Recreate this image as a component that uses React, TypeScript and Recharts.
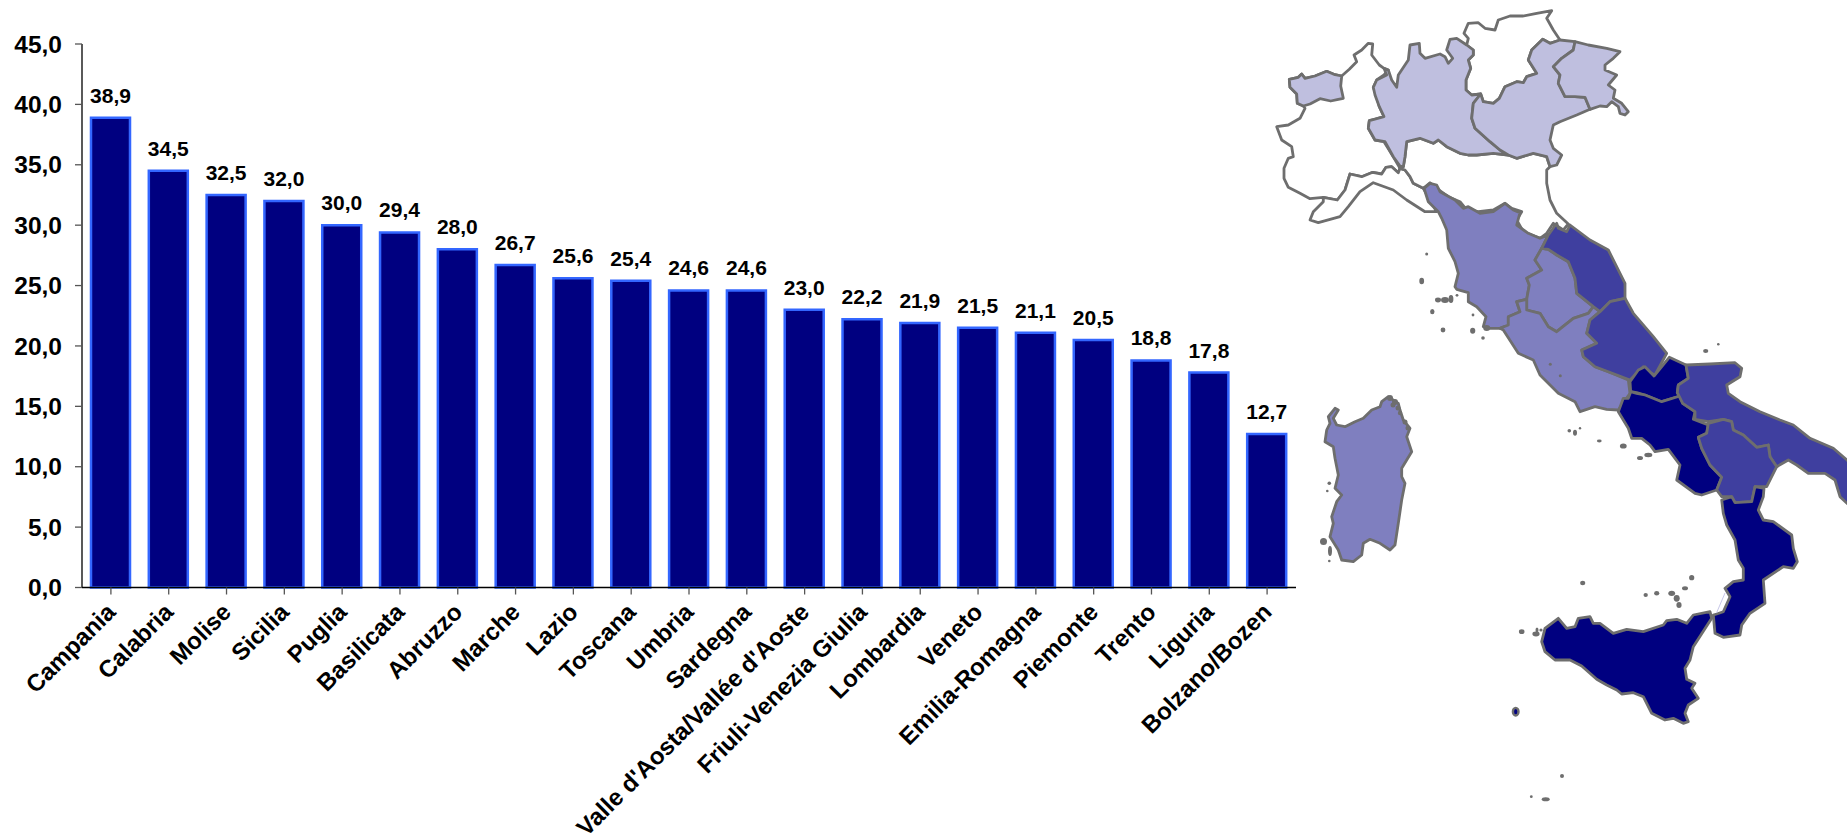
import { Bar, BarChart, LabelList, XAxis, YAxis } from "recharts";

const regions = [
  "Campania", "Calabria", "Molise", "Sicilia", "Puglia", "Basilicata", "Abruzzo",
  "Marche", "Lazio", "Toscana", "Umbria", "Sardegna", "Valle d'Aosta/Vallée d'Aoste",
  "Friuli-Venezia Giulia", "Lombardia", "Veneto", "Emilia-Romagna", "Piemonte",
  "Trento", "Liguria", "Bolzano/Bozen",
];
const rates = [
  38.9, 34.5, 32.5, 32.0, 30.0, 29.4, 28.0, 26.7, 25.6, 25.4, 24.6, 24.6, 23.0,
  22.2, 21.9, 21.5, 21.1, 20.5, 18.8, 17.8, 12.7,
];
const yTicks = [0, 5, 10, 15, 20, 25, 30, 35, 40, 45];

// Choropleth classes for the map, upper bound of each one
const classBreaks = [21.2, 24, 26, 31, 100];
const classColors = ["#ffffff", "#bfbfdf", "#7f7fbf", "#3f3f9f", "#000080"];

const tableData = regions.map((name, i) => ({ name, value: rates[i] }));
const comma = (v: number) => v.toFixed(1).replace(".", ",");
const FONT = "'Liberation Sans', Arial, sans-serif";
const BORDER = "#6e6e6e";

function colorOf(name: string) {
  const value = rates[regions.indexOf(name)];
  return classColors[classBreaks.findIndex((b) => value < b)];
}

// Outlines are traced at 3x around a local origin
const NORTH: [number, number] = [1260, 0];
const CENTRE: [number, number] = [1300, 170];
const SOUTH: [number, number] = [1560, 340];
const SICILY: [number, number] = [1500, 580];
const SARDINIA: [number, number] = [1300, 380];

const outlines: { names: string[]; origin: [number, number]; pts: string }[] = [
  { names: ["Piemonte"], origin: NORTH, pts: "130,318 112,310 110,282 90,262 88,238 115,232 125,222 135,235 165,228 200,214 225,224 245,228 268,208 290,185 282,165 305,150 325,130 338,132 335,165 358,195 372,205 385,210 372,225 350,240 340,262 350,290 358,320 372,350 345,358 328,362 325,385 345,420 372,425 400,470 420,505 415,518 395,500 378,502 365,522 338,517 305,530 270,522 255,570 232,600 190,592 150,596 120,580 85,562 72,535 72,505 85,475 100,470 95,440 65,420 50,380 85,375 120,355 135,325" },
  { names: ["Liguria"], origin: NORTH, pts: "415,518 395,500 378,502 365,522 338,517 305,530 270,522 255,570 232,600 190,592 190,605 160,635 150,660 175,668 240,650 265,620 300,575 340,548 400,570 440,600 495,635 530,635 510,600 490,565 460,550 450,530 435,510 420,505" },
  { names: ["Emilia-Romagna"], origin: NORTH, pts: "420,505 435,510 450,530 460,550 490,565 510,548 530,565 565,590 600,605 620,630 655,635 700,630 735,610 755,625 785,635 770,660 790,695 840,715 860,700 880,670 910,690 925,672 890,640 870,600 860,550 860,510 870,500 860,470 820,460 770,475 745,465 700,460 650,465 625,465 600,460 560,440 535,420 520,430 480,415 440,425 435,470 430,500" },
  { names: ["Trento", "Bolzano/Bozen"], origin: NORTH, pts: "612,100 625,70 655,68 675,85 705,90 715,60 750,48 790,48 830,40 875,32 860,55 880,90 900,120 870,130 848,118 815,150 805,180 830,220 800,230 790,248 770,245 735,260 718,295 700,310 670,305 662,282 635,285 618,270 618,240 632,205 625,180 640,165 640,150 620,135 625,115" },
  { names: ["Valle d'Aosta/Vallée d'Aoste"], origin: NORTH, pts: "88,238 115,232 125,222 135,235 165,228 200,214 225,224 245,228 242,258 250,295 235,298 212,303 180,296 150,312 130,318 112,310 110,282 90,262" },
  { names: ["Lombardia"], origin: NORTH, pts: "372,205 385,210 395,240 410,262 415,225 445,180 450,135 478,130 480,160 495,175 540,162 555,170 565,190 578,175 560,150 570,118 590,115 620,135 640,150 640,165 625,180 632,205 618,240 618,270 635,285 662,282 640,310 635,355 645,385 690,425 720,450 745,465 700,460 650,465 625,465 600,460 560,440 535,420 520,430 480,415 440,425 435,470 430,500 420,498 400,470 375,425 345,420 325,385 328,362 372,350 358,320 345,285 340,262 350,240 380,225" },
  { names: ["Veneto"], origin: NORTH, pts: "662,282 670,305 700,310 718,295 735,260 770,245 790,248 800,230 830,220 805,180 815,150 848,118 870,130 900,120 945,125 940,150 905,175 880,200 900,225 895,250 915,290 945,290 975,292 990,328 950,345 900,365 880,375 870,420 880,445 905,465 890,495 870,500 860,470 820,460 770,475 745,465 720,450 690,425 645,385 635,355 640,310" },
  { names: ["Friuli-Venezia Giulia"], origin: NORTH, pts: "945,125 985,135 1040,145 1080,155 1060,175 1035,195 1035,210 1070,225 1045,255 1065,270 1060,295 1085,310 1105,335 1095,345 1080,340 1075,320 1055,305 1040,320 1020,318 990,328 975,292 945,290 915,290 895,250 900,225 880,200 905,175 940,150" },
  { names: ["Toscana"], origin: CENTRE, pts: "372,55 390,40 410,45 420,65 465,90 490,115 505,110 540,130 580,125 615,100 640,120 660,128 650,165 685,190 720,205 745,195 725,235 705,270 725,300 680,325 688,345 680,388 650,395 660,425 625,440 625,465 600,475 570,475 550,470 558,440 530,410 505,395 505,368 470,358 465,350 475,310 465,275 445,235 440,180 425,145 415,125 385,95" },
  { names: ["Umbria"], origin: CENTRE, pts: "725,235 745,238 770,255 805,275 825,325 830,370 880,410 865,430 820,445 770,485 745,470 720,430 680,420 680,388 688,345 680,325 725,300 705,270" },
  { names: ["Lazio"], origin: CENTRE, pts: "680,388 680,420 720,430 745,470 770,485 820,445 865,430 880,410 900,425 870,450 860,490 890,520 845,540 850,560 885,590 925,605 985,630 990,670 955,720 920,718 885,710 840,725 825,695 775,670 720,615 700,570 655,550 610,480 600,475 625,465 625,440 660,425 650,395" },
  { names: ["Marche"], origin: CENTRE, pts: "745,195 770,160 775,175 800,185 810,165 870,210 925,240 975,340 975,385 930,395 900,425 880,410 830,370 825,325 805,275 770,255 745,238 725,235" },
  { names: ["Abruzzo"], origin: CENTRE, pts: "900,425 930,395 975,385 1000,430 1060,500 1100,550 1065,615 1045,605 1030,590 990,630 925,605 885,590 850,560 845,540 890,520 860,490 870,450" },
  { names: ["Molise"], origin: SOUTH, pts: "328,52 378,75 385,115 355,135 352,158 360,168 305,185 255,165 230,158 212,155 210,125 235,90 255,80 282,108" },
  { names: ["Campania"], origin: SOUTH, pts: "212,155 230,160 255,165 305,185 360,168 368,190 405,215 400,238 445,255 440,280 415,292 425,325 450,375 485,412 470,450 425,465 405,460 350,420 360,375 325,328 285,335 270,315 245,295 215,295 205,265 175,215 190,175 205,175" },
  { names: ["Puglia"], origin: SOUTH, pts: "378,75 450,72 525,68 545,85 540,110 500,135 505,160 540,185 600,215 660,240 700,255 750,295 820,325 861,360 900,400 900,520 861,490 840,470 825,420 795,400 745,400 710,375 685,360 650,380 630,350 625,315 590,322 550,285 520,270 515,245 490,238 445,245 405,238 405,215 368,190 352,158 355,135 385,115" },
  { names: ["Basilicata"], origin: SOUTH, pts: "445,250 490,238 515,245 520,270 550,285 590,322 625,315 630,350 650,380 620,440 585,440 575,485 525,488 515,470 485,470 470,450 485,412 450,375 425,325 415,292 440,280" },
  { names: ["Calabria"], origin: SOUTH, pts: "485,480 515,470 525,488 575,485 585,440 612,445 610,470 595,510 610,540 640,545 695,585 700,625 712,665 700,685 670,680 610,720 615,790 570,820 545,855 540,885 490,892 465,880 460,825 470,822 490,815 510,770 495,745 520,725 550,720 550,685 535,660 525,600 500,555 490,520" },
  { names: ["Sicilia"], origin: SICILY, pts: "135,145 175,115 200,145 225,140 235,115 270,110 280,130 300,130 340,160 380,148 430,155 490,135 500,122 530,118 560,130 580,105 630,95 635,115 580,200 570,240 555,265 560,298 585,310 575,325 595,355 565,375 555,400 565,425 550,430 520,415 495,420 455,400 430,350 400,338 365,342 350,330 320,315 290,298 245,258 210,240 165,240 135,215 125,185" },
  { names: ["Sardegna"], origin: SARDINIA, pts: "80,150 90,130 85,110 105,85 115,90 100,115 110,135 135,140 165,125 190,115 215,90 240,80 245,65 265,50 295,70 300,90 310,120 330,145 320,170 335,215 305,265 305,290 315,310 305,360 295,430 285,495 270,510 240,490 210,478 190,490 185,525 160,545 125,540 115,510 90,470 100,430 95,410 110,365 125,345 105,325 115,285 105,235 100,200 75,185" },
];

// Small islands, too small to fill
const islands: [number, number, number, number][] = [
  [1426.7, 254, 1.5, 1.5], [1421.7, 281, 2.4, 3.2], [1438, 300, 3, 2.4], [1445, 300, 4, 3], [1451, 299, 2.4, 4],
  [1432.3, 311.7, 2.2, 2.6], [1443, 330, 2.4, 2.4], [1472.7, 330.7, 2.6, 3], [1483, 338, 1.8, 1.8],
  [1473, 315, 1.4, 1.4], [1457, 295.3, 1.4, 1.4], [1486.7, 328, 3.5, 3], [1550.3, 364.3, 1.5, 1.5],
  [1560.3, 375.7, 1.5, 1.5], [1569.3, 430.7, 1.8, 1.8], [1575, 432.7, 2, 3], [1580, 428.3, 1.2, 1.2],
  [1599.3, 441, 2.4, 1.4], [1623.3, 446, 3.4, 2.6], [1640, 458, 3, 2], [1648.3, 455, 4, 2.2],
  [1582.7, 583, 2.6, 2.2], [1645.7, 595, 2.2, 2], [1656.7, 593.3, 2.6, 2.2], [1671.7, 593.3, 3.4, 2.6],
  [1676.7, 598.3, 3, 3.4], [1679, 605, 2.6, 3], [1685, 588.3, 3, 2], [1691.7, 577.7, 2.6, 2.6],
  [1705.7, 351, 2.6, 2], [1718.3, 344.3, 1.3, 1.3], [1521.7, 631.7, 2.8, 2.4], [1536, 634, 3.6, 2.4],
  [1541, 630, 1.6, 1.6], [1537, 630, 1.5, 2.5], [1545.7, 799.3, 4, 2], [1562, 776, 2, 2],
  [1531.3, 796.7, 1.4, 1.4], [1329.3, 483.3, 1.8, 1.8], [1327.3, 491, 1.3, 1.3], [1329.3, 561, 1.3, 1.3],
  [1323.5, 541.5, 3.5, 3.5], [1330, 551, 2, 5], [1390, 398, 3, 3], [1395, 402, 3, 3], [1393, 405, 2.5, 2.5],
  [1398, 408, 2.5, 2.5], [1400, 413, 2.2, 2.2], [1405, 422, 2.5, 2.5], [1408, 428, 2.5, 2.5],
];

function toPage(origin: [number, number], pts: string) {
  return pts
    .split(" ")
    .map((p) => {
      const [x, y] = p.split(",").map(Number);
      return `${(origin[0] + x / 3).toFixed(1)},${(origin[1] + y / 3).toFixed(1)}`;
    })
    .join(" ");
}

function RegionTick({ x, y, payload }: any) {
  const px = x + 6;
  const py = y + 17;
  return (
    <text
      x={px}
      y={py}
      transform={`rotate(-45 ${px} ${py})`}
      textAnchor="end"
      fontFamily={FONT}
      fontSize={24}
      fontWeight={700}
      fill="#000"
    >
      {payload.value}
    </text>
  );
}

export default function App() {
  return (
    <div style={{ position: "absolute", left: 0, top: 0, width: 1847, height: 839, overflow: "hidden", background: "#fff" }}>
      <BarChart
        width={1847}
        height={839}
        data={tableData}
        margin={{ top: 44, right: 551, bottom: 151.5, left: 0 }}
        barSize={39}
      >
        <XAxis
          dataKey="name"
          interval={0}
          height={100}
          tickSize={7}
          tick={<RegionTick />}
          axisLine={{ stroke: "#000", strokeWidth: 1.3 }}
          tickLine={{ stroke: "#555", strokeWidth: 1.3 }}
        />
        <YAxis
          width={82}
          domain={[0, 45]}
          ticks={yTicks}
          tickSize={7}
          tickMargin={13}
          tickFormatter={comma}
          tick={{ fontFamily: FONT, fontSize: 24.5, fontWeight: 700, fill: "#000" }}
          axisLine={{ stroke: "#000", strokeWidth: 1.3 }}
          tickLine={{ stroke: "#555", strokeWidth: 1.3 }}
        />
        <Bar dataKey="value" fill="#000080" stroke="#3366ff" strokeWidth={2.5} isAnimationActive={false}>
          <LabelList
            dataKey="value"
            position="top"
            offset={15}
            formatter={comma}
            style={{ fontFamily: FONT, fontSize: 21, fontWeight: 700, fill: "#000" }}
          />
        </Bar>
      </BarChart>

      {/* Regional map coloured by the same rates */}
      <svg width={1847} height={839} style={{ position: "absolute", left: 0, top: 0 }}>
        {outlines.map((o) => (
          <polygon
            key={o.names[0]}
            points={toPage(o.origin, o.pts)}
            fill={colorOf(o.names[0])}
            stroke={BORDER}
            strokeWidth={2.8}
            strokeLinejoin="round"
          />
        ))}
        {islands.map(([cx, cy, rx, ry], i) => (
          <ellipse key={i} cx={cx} cy={cy} rx={rx} ry={ry} fill={BORDER} />
        ))}
        <ellipse cx={1515.7} cy={711.7} rx={2.8} ry={3.8} fill={colorOf("Sicilia")} stroke={BORDER} strokeWidth={2.4} />
        <line x1={1725} y1={593} x2={1716.5} y2={613} stroke="#c8c8e8" strokeWidth={1} />
      </svg>
    </div>
  );
}
